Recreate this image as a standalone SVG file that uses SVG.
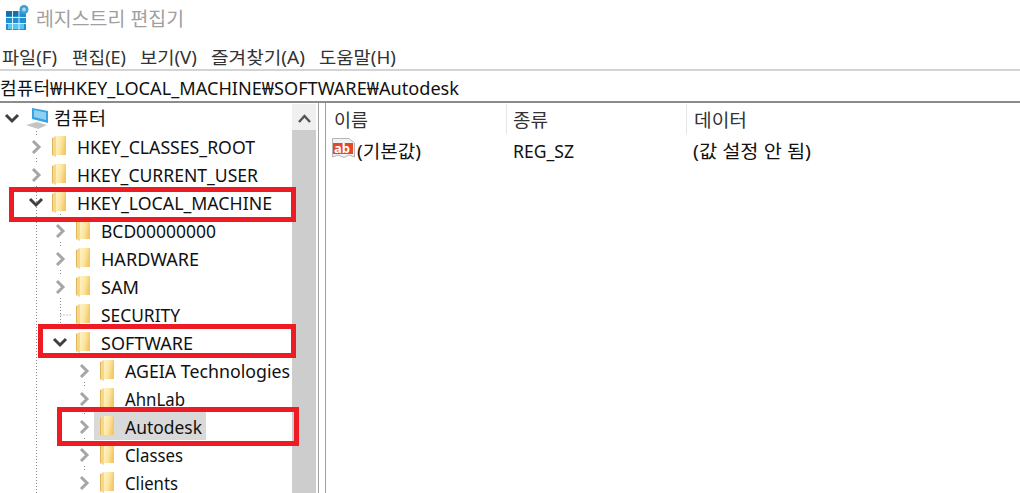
<svg xmlns="http://www.w3.org/2000/svg" width="1020" height="493" viewBox="0 0 1020 493">
<style>
text{font-family:"Noto Sans","Noto Sans CJK KR",sans-serif;font-size:18px;fill:#111}
.t{fill:#a0a0a0;font-size:19.500px}
.m{fill:#333;font-size:17.500px}
.h{fill:#333}
.gc{fill:none;stroke:#a6a6a6;stroke-width:3}
.dc{fill:none;stroke:#404040;stroke-width:3}
.red{fill:none;stroke:#ed1c24;stroke-width:5}
.dot{fill:none;stroke:#888;stroke-width:1;stroke-dasharray:1 2}
</style>
<defs>
<linearGradient id="fg" x1="0" x2="1" y1="0" y2="0.300"><stop offset="0" stop-color="#fff3c8"/><stop offset="0.6" stop-color="#fce49c"/><stop offset="1" stop-color="#f2c868"/></linearGradient>
<g id="folder"><path d="M4-10H14V9H4Z" fill="url(#fg)"/><path d="M0-8 4-10V11L0 9Z" fill="#f6d888"/><path d="M0-8 1-8.500V9.500L0 9Z" fill="#e2b75c"/></g>
<path id="cr" d="M-3-6 3 0-3 6" class="gc"/>
<path id="cd" d="M-6-3 0 3 6-3" class="dc"/>
</defs>
<rect width="1020" height="493" fill="#fff"/>
<g id="titlebar">
<rect x="6" y="11" width="20" height="19" fill="#1f8fd0"/>
<rect x="6" y="11" width="14" height="5" fill="#1a6fa8"/>
<rect x="8" y="23" width="16" height="6" fill="#5cc4f0"/>
<path d="M6 17.500H26M6 23.500H26M12.500 11V30M19 11V30" stroke="#d5eefa" stroke-width="1"/>
<circle cx="24" cy="9.500" r="4.500" fill="#3f9fd0"/>
<circle cx="24" cy="9.500" r="2" fill="#a7d6ef"/>
<text class="t" x="36" y="26" textLength="148" lengthAdjust="spacingAndGlyphs">레지스트리 편집기</text>
</g>
<g id="menu">
<text class="m" x="2" y="64" textLength="55" lengthAdjust="spacingAndGlyphs">파일(F)</text>
<text class="m" x="72" y="64" textLength="54" lengthAdjust="spacingAndGlyphs">편집(E)</text>
<text class="m" x="140" y="64" textLength="57" lengthAdjust="spacingAndGlyphs">보기(V)</text>
<text class="m" x="211" y="64" textLength="94" lengthAdjust="spacingAndGlyphs">즐겨찾기(A)</text>
<text class="m" x="319" y="64" textLength="77" lengthAdjust="spacingAndGlyphs">도움말(H)</text>
</g>
<rect y="69" width="1020" height="2" fill="#d4d4d4"/>
<text x="0" y="95" id="addr" textLength="459" lengthAdjust="spacingAndGlyphs">컴퓨터₩HKEY_LOCAL_MACHINE₩SOFTWARE₩Autodesk</text>
<rect y="101" width="1020" height="2" fill="#8c8c8c"/>
<g id="scrollbar">
<rect x="292" y="104" width="24" height="390" fill="#cdcdcd"/>
<rect x="292" y="104" width="24" height="26" fill="#f0f0f0"/>
<path d="M299 122 304.500 116 310 122" fill="none" stroke="#555" stroke-width="2.500"/>
</g>
<rect x="318" y="103" width="1" height="390" fill="#a0a0a0"/>
<rect x="325" y="103" width="1" height="390" fill="#a0a0a0"/>
<g id="connectors">
<path class="dot" d="M36.500 131V136M36.500 158V164M36.500 186V493M60.500 214V220M60.500 242V248M60.500 270V276M60.500 298V330M60.500 315H72M84.500 382V388M84.500 410V416M84.500 438V444M84.500 466V472"/>
</g>
<rect x="94" y="412" width="112" height="28" fill="#d9d9d9"/>
<g id="n-computer"><use href="#cd" x="12" y="118"/>
<path d="M32 108 48 111V123L32 119Z" fill="#37a3df"/><path d="M34 110 46 112.500V120L34 117Z" fill="#8fd0f2"/>
<path d="M26 125 37 122 47 125 38 129Z" fill="#c4c4c4"/>
<text x="54" y="125" textLength="52" lengthAdjust="spacingAndGlyphs">컴퓨터</text></g>
<g id="n-classes"><use href="#cr" x="36" y="147"/><use href="#folder" x="52" y="146"/><text x="77" y="154" textLength="178" lengthAdjust="spacingAndGlyphs">HKEY_CLASSES_ROOT</text></g>
<g id="n-user"><use href="#cr" x="36" y="175"/><use href="#folder" x="52" y="174"/><text x="77" y="182" textLength="181" lengthAdjust="spacingAndGlyphs">HKEY_CURRENT_USER</text></g>
<g id="n-machine"><use href="#cd" x="36" y="202"/><use href="#folder" x="52" y="202"/><text x="77" y="210" textLength="195" lengthAdjust="spacingAndGlyphs">HKEY_LOCAL_MACHINE</text></g>
<g id="n-bcd"><use href="#cr" x="60" y="231"/><use href="#folder" x="76" y="230"/><text x="101" y="238" textLength="115" lengthAdjust="spacingAndGlyphs">BCD00000000</text></g>
<g id="n-hardware"><use href="#cr" x="60" y="259"/><use href="#folder" x="76" y="258"/><text x="101" y="266" textLength="98" lengthAdjust="spacingAndGlyphs">HARDWARE</text></g>
<g id="n-sam"><use href="#cr" x="60" y="287"/><use href="#folder" x="76" y="286"/><text x="101" y="294" textLength="38" lengthAdjust="spacingAndGlyphs">SAM</text></g>
<g id="n-security"><use href="#folder" x="76" y="314"/><text x="101" y="322" textLength="79" lengthAdjust="spacingAndGlyphs">SECURITY</text></g>
<g id="n-software"><use href="#cd" x="60" y="342"/><use href="#folder" x="76" y="342"/><text x="101" y="350" textLength="92" lengthAdjust="spacingAndGlyphs">SOFTWARE</text></g>
<g id="n-ageia"><use href="#cr" x="84" y="371"/><use href="#folder" x="100" y="370"/><text x="125" y="378" textLength="165" lengthAdjust="spacingAndGlyphs">AGEIA Technologies</text></g>
<g id="n-ahnlab"><use href="#cr" x="84" y="399"/><use href="#folder" x="100" y="398"/><text x="125" y="406" textLength="60" lengthAdjust="spacingAndGlyphs">AhnLab</text></g>
<g id="n-autodesk"><use href="#cr" x="84" y="427"/><use href="#folder" x="100" y="426"/><text x="125" y="434" textLength="77" lengthAdjust="spacingAndGlyphs">Autodesk</text></g>
<g id="n-classes2"><use href="#cr" x="84" y="455"/><use href="#folder" x="100" y="454"/><text x="125" y="462" textLength="58" lengthAdjust="spacingAndGlyphs">Classes</text></g>
<g id="n-clients"><use href="#cr" x="84" y="483"/><use href="#folder" x="100" y="482"/><text x="125" y="490" textLength="53" lengthAdjust="spacingAndGlyphs">Clients</text></g>
<g id="listhead">
<rect x="506" y="104" width="1" height="30" fill="#e5e5e5"/><rect x="686" y="104" width="1" height="30" fill="#e5e5e5"/>
<text class="h" x="334" y="127" textLength="34" lengthAdjust="spacingAndGlyphs">이름</text><text class="h" x="513" y="127" textLength="35" lengthAdjust="spacingAndGlyphs">종류</text><text class="h" x="694" y="127" textLength="53" lengthAdjust="spacingAndGlyphs">데이터</text>
</g>
<g id="listrow">
<path d="M332.500 138.500H349L354.500 143V157L349 155 344 157.500 338 155 332.500 157Z" fill="#f2f2f2" stroke="#b5b5b5"/>
<rect x="333" y="143" width="20" height="11" fill="#e0492a"/>
<text x="334" y="153" style="font-size:13px;font-weight:700;fill:#fff">ab</text>
<text x="357" y="158" textLength="64" lengthAdjust="spacingAndGlyphs">(기본값)</text>
<text x="513" y="158" textLength="61" lengthAdjust="spacingAndGlyphs">REG_SZ</text>
<text x="693" y="158" textLength="118" lengthAdjust="spacingAndGlyphs">(값 설정 안 됨)</text>
</g>
<g id="highlights">
<rect class="red" x="11.500" y="189.500" width="282" height="30"/>
<rect class="red" x="40.500" y="326.500" width="253" height="29"/>
<rect class="red" x="59.500" y="409.500" width="237" height="34"/>
</g>
</svg>
